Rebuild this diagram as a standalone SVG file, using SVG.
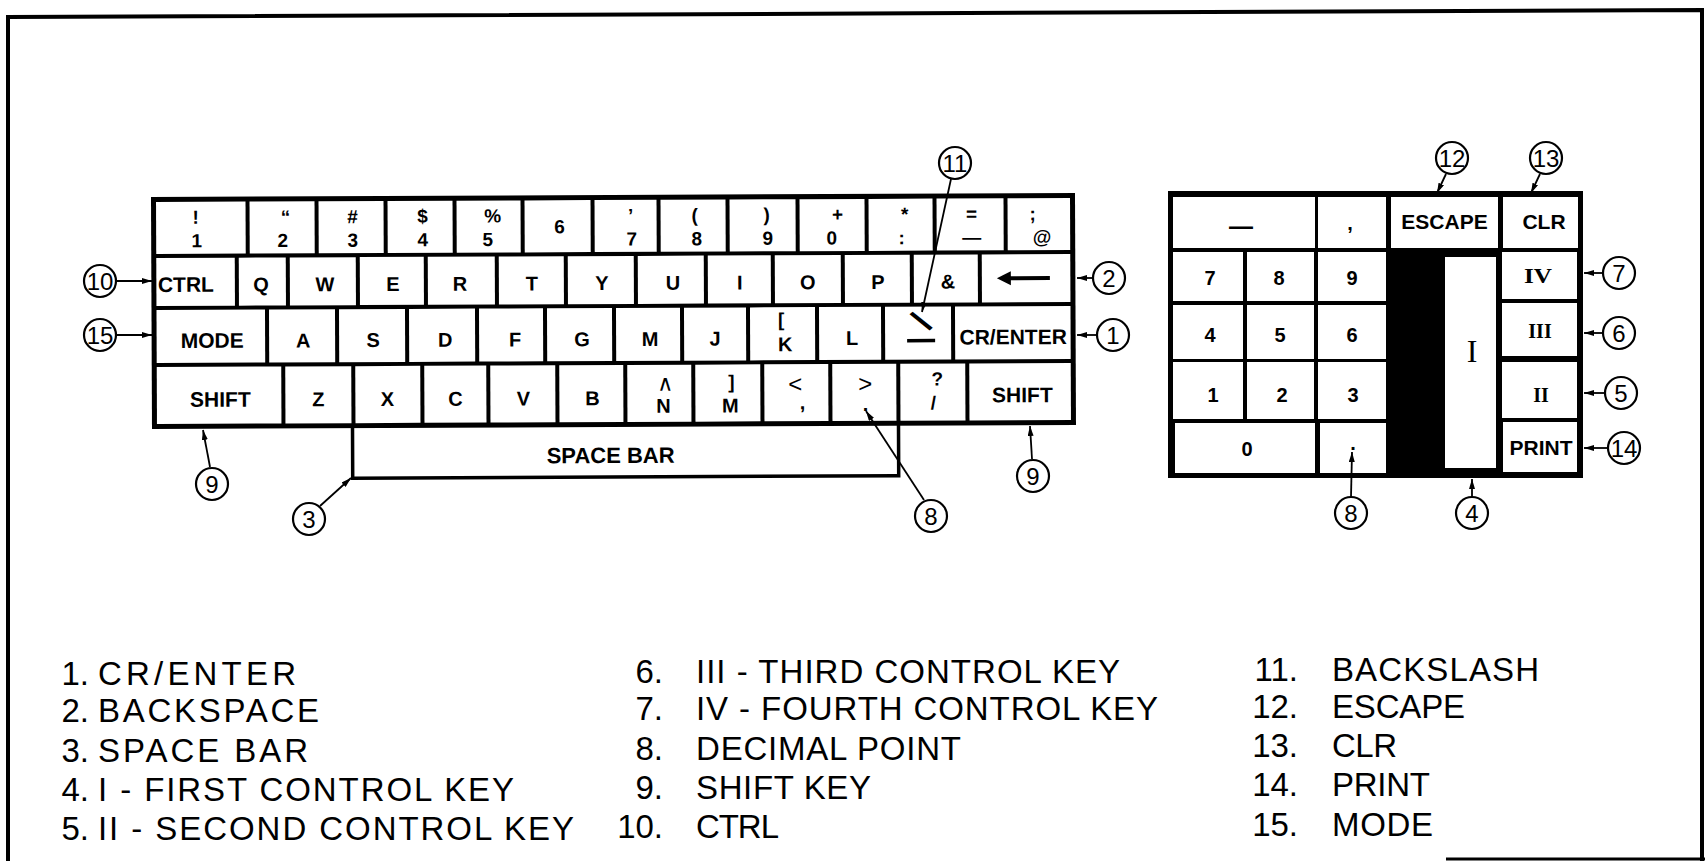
<svg xmlns="http://www.w3.org/2000/svg" width="1705" height="861" viewBox="0 0 1705 861">
<style>
text{font-family:"Liberation Sans",Arial,Helvetica,sans-serif;fill:#000}
.k{font-weight:bold;font-size:20px;text-anchor:middle}
.kw{font-weight:bold;font-size:21px;text-anchor:middle}
.kd{font-weight:bold;font-size:19px;text-anchor:middle}
.rn{font-family:"Liberation Serif","Times New Roman",serif;font-weight:bold;font-size:20px;text-anchor:middle}
.key{fill:#fff}
.co circle{fill:#fff;stroke:#000;stroke-width:2.2}
.co text{font-size:24px;text-anchor:middle}
.cn line{stroke:#000;stroke-width:1.8;marker-end:url(#ah)}
.lg{font-size:33px}
.lgn{font-size:33px;text-anchor:end}
</style>
<defs>
<marker id="ah" viewBox="0 0 10 6" refX="10" refY="3" markerWidth="10" markerHeight="6" orient="auto" markerUnits="userSpaceOnUse"><path d="M0,0 L10,3 L0,6 z" fill="#000"/></marker>
</defs>
<rect width="1705" height="861" fill="#fff"/>
<g id="frame" fill="none" stroke="#000">
<path d="M8,861 L8,17 L1702,10 L1702,861" stroke-width="4"/>
<line x1="1446" y1="859" x2="1705" y2="859" stroke-width="3"/>
</g>

<g id="keyboard" transform="rotate(-0.25 614 312)">
<g id="key-space"><rect x="352" y="424.5" width="546" height="52.5" fill="#fff" stroke="#000" stroke-width="3.5"/><text class="kw" x="610" y="463" style="font-size:22px">SPACE BAR</text></g>
<rect x="151.5" y="195" width="924" height="232" fill="#000"/>
<!-- row 1 -->
<g id="key-1"><rect class="key" x="156.5" y="200" width="89.5" height="52"/><text class="kd" x="196" y="222">!</text><text class="kd" x="197" y="245.5">1</text></g>
<g id="key-2"><rect class="key" x="250" y="200" width="65" height="52"/><text class="kd" x="286" y="222">“</text><text class="kd" x="283" y="245.5">2</text></g>
<g id="key-3"><rect class="key" x="319" y="200" width="65" height="52"/><text class="kd" x="353" y="222">#</text><text class="kd" x="353" y="245.5">3</text></g>
<g id="key-4"><rect class="key" x="388" y="200" width="65" height="52"/><text class="kd" x="423" y="222">$</text><text class="kd" x="423" y="245.5">4</text></g>
<g id="key-5"><rect class="key" x="457" y="200" width="64" height="52"/><text class="kd" x="493" y="222">%</text><text class="kd" x="488" y="245.5">5</text></g>
<g id="key-6"><rect class="key" x="525" y="200" width="66" height="52"/><text class="kd" x="560" y="233">6</text></g>
<g id="key-7"><rect class="key" x="595" y="200" width="62" height="52"/><text class="kd" x="631" y="222">’</text><text class="kd" x="632" y="245.5">7</text></g>
<g id="key-8"><rect class="key" x="661" y="200" width="65" height="52"/><text class="kd" x="695" y="222">(</text><text class="kd" x="697" y="245.5">8</text></g>
<g id="key-9"><rect class="key" x="730" y="200" width="66" height="52"/><text class="kd" x="767" y="222">)</text><text class="kd" x="768" y="245.5">9</text></g>
<g id="key-0"><rect class="key" x="800" y="200" width="65" height="52"/><text class="kd" x="838" y="222">+</text><text class="kd" x="832" y="245.5">0</text></g>
<g id="key-colon"><rect class="key" x="869" y="200" width="64" height="52"/><text class="kd" x="905" y="222">*</text><text class="kd" x="902" y="245.5">:</text></g>
<g id="key-minus"><rect class="key" x="937" y="200" width="67" height="52"/><text class="kd" x="972" y="222">=</text><text class="kd" x="972" y="245.5">—</text></g>
<g id="key-at"><rect class="key" x="1008" y="200" width="62.5" height="52"/><text class="kd" x="1033" y="222">;</text><text class="kd" x="1042" y="245.5" style="font-style:italic">@</text></g>
<!-- row 2 -->
<g id="key-ctrl"><rect class="key" x="156.5" y="256" width="78.5" height="48"/><text class="kw" x="158" y="290" style="text-anchor:start">CTRL</text></g>
<g id="key-q"><rect class="key" x="239" y="256" width="47" height="48"/><text class="k" x="261" y="290">Q</text></g>
<g id="key-w"><rect class="key" x="290" y="256" width="66" height="48"/><text class="k" x="325" y="290">W</text></g>
<g id="key-e"><rect class="key" x="360" y="256" width="64" height="48"/><text class="k" x="393" y="290">E</text></g>
<g id="key-r"><rect class="key" x="428" y="256" width="67" height="48"/><text class="k" x="460" y="290">R</text></g>
<g id="key-t"><rect class="key" x="499" y="256" width="65" height="48"/><text class="k" x="532" y="290">T</text></g>
<g id="key-y"><rect class="key" x="568" y="256" width="66" height="48"/><text class="k" x="602" y="290">Y</text></g>
<g id="key-u"><rect class="key" x="638" y="256" width="66" height="48"/><text class="k" x="673" y="290">U</text></g>
<g id="key-i"><rect class="key" x="708" y="256" width="63" height="48"/><text class="k" x="740" y="290">I</text></g>
<g id="key-o"><rect class="key" x="775" y="256" width="66" height="48"/><text class="k" x="808" y="290">O</text></g>
<g id="key-p"><rect class="key" x="845" y="256" width="65" height="48"/><text class="k" x="878" y="290">P</text></g>
<g id="key-amp"><rect class="key" x="914" y="256" width="64" height="48"/><text class="k" x="948" y="290">&amp;</text></g>
<g id="key-backspace"><rect class="key" x="982" y="256" width="88.5" height="48"/><line x1="1008" y1="280" x2="1050" y2="280" stroke="#000" stroke-width="4"/><path d="M997,280 L1011,273 L1011,287 z" fill="#000"/></g>
<!-- row 3 -->
<g id="key-mode"><rect class="key" x="156.5" y="308" width="108.5" height="53"/><text class="kw" x="212" y="346">MODE</text></g>
<g id="key-a"><rect class="key" x="269" y="308" width="66" height="53"/><text class="k" x="303" y="346">A</text></g>
<g id="key-s"><rect class="key" x="339" y="308" width="66" height="53"/><text class="k" x="373" y="346">S</text></g>
<g id="key-d"><rect class="key" x="409" y="308" width="66" height="53"/><text class="k" x="445" y="346">D</text></g>
<g id="key-f"><rect class="key" x="479" y="308" width="64" height="53"/><text class="k" x="515" y="346">F</text></g>
<g id="key-g"><rect class="key" x="547" y="308" width="65" height="53"/><text class="k" x="582" y="346">G</text></g>
<g id="key-m1"><rect class="key" x="616" y="308" width="64" height="53"/><text class="k" x="650" y="346">M</text></g>
<g id="key-j"><rect class="key" x="684" y="308" width="62" height="53"/><text class="k" x="715" y="346">J</text></g>
<g id="key-k"><rect class="key" x="750" y="308" width="65" height="53"/><text class="kd" x="781" y="327">[</text><text class="k" x="785" y="352">K</text></g>
<g id="key-l"><rect class="key" x="819" y="308" width="62" height="53"/><text class="k" x="852" y="346">L</text></g>
<g id="key-backslash"><rect class="key" x="885" y="308" width="66" height="53"/><text class="kw" transform="translate(921,322.5) rotate(-40)" y="12" style="font-size:34px">\</text><line x1="907" y1="342" x2="935" y2="342" stroke="#000" stroke-width="3.5"/></g>
<g id="key-enter"><rect class="key" x="955" y="308" width="115.5" height="53"/><text class="kw" x="1013" y="346">CR/ENTER</text></g>
<!-- row 4 -->
<g id="key-shift-l"><rect class="key" x="156.5" y="365" width="124.5" height="57"/><text class="kw" x="220" y="405">SHIFT</text></g>
<g id="key-z"><rect class="key" x="285" y="365" width="66" height="57"/><text class="k" x="318" y="405">Z</text></g>
<g id="key-x"><rect class="key" x="355" y="365" width="65" height="57"/><text class="k" x="387" y="405">X</text></g>
<g id="key-c"><rect class="key" x="424" y="365" width="62" height="57"/><text class="k" x="455" y="405">C</text></g>
<g id="key-v"><rect class="key" x="490" y="365" width="65" height="57"/><text class="k" x="523" y="405">V</text></g>
<g id="key-b"><rect class="key" x="559" y="365" width="64" height="57"/><text class="k" x="592" y="405">B</text></g>
<g id="key-n"><rect class="key" x="627" y="365" width="64" height="57"/><text x="665" y="391" style="font-family:'DejaVu Sans',sans-serif;font-size:22px;text-anchor:middle">∧</text><text class="k" x="663" y="413">N</text></g>
<g id="key-m2"><rect class="key" x="695" y="365" width="65" height="57"/><text class="kd" x="731" y="389">]</text><text class="k" x="730" y="413">M</text></g>
<g id="key-comma"><rect class="key" x="764" y="365" width="64" height="57"/><text class="k" x="795" y="393" style="font-weight:normal;font-size:24px">&lt;</text><text class="k" x="802" y="410">,</text></g>
<g id="key-period"><rect class="key" x="832" y="365" width="64" height="57"/><text class="k" x="865" y="393" style="font-weight:normal;font-size:24px">&gt;</text><text class="k" x="865" y="412">.</text></g>
<g id="key-slash"><rect class="key" x="900" y="365" width="65" height="57"/><text class="kd" x="937" y="387">?</text><text class="kd" x="933" y="411">/</text></g>
<g id="key-shift-r"><rect class="key" x="969" y="365" width="101.5" height="57"/><text class="kw" x="1022" y="404">SHIFT</text></g>
</g>

<g id="keypad">
<rect x="1168" y="191" width="415" height="287" fill="#000"/>
<g id="kp-minus"><rect class="key" x="1173" y="197" width="142" height="51"/><text class="k" x="1241" y="234" style="font-size:24px">—</text></g>
<g id="kp-comma"><rect class="key" x="1318" y="197" width="68" height="51"/><text class="k" x="1350" y="230">,</text></g>
<g id="kp-escape"><rect class="key" x="1391" y="197" width="107" height="51"/><text class="kw" x="1444.5" y="229">ESCAPE</text></g>
<g id="kp-clr"><rect class="key" x="1503" y="197" width="75" height="51"/><text class="kw" x="1544" y="229">CLR</text></g>
<g id="kp-7"><rect class="key" x="1173" y="252" width="70" height="49"/><text class="k" x="1210" y="285">7</text></g>
<g id="kp-8"><rect class="key" x="1247" y="252" width="67" height="49"/><text class="k" x="1279" y="285">8</text></g>
<g id="kp-9"><rect class="key" x="1318" y="252" width="68" height="49"/><text class="k" x="1352" y="285">9</text></g>
<g id="kp-4"><rect class="key" x="1173" y="305" width="70" height="54"/><text class="k" x="1210" y="342">4</text></g>
<g id="kp-5"><rect class="key" x="1247" y="305" width="67" height="54"/><text class="k" x="1280" y="342">5</text></g>
<g id="kp-6"><rect class="key" x="1318" y="305" width="68" height="54"/><text class="k" x="1352" y="342">6</text></g>
<g id="kp-1"><rect class="key" x="1173" y="362" width="70" height="57"/><text class="k" x="1213" y="402">1</text></g>
<g id="kp-2"><rect class="key" x="1247" y="362" width="67" height="57"/><text class="k" x="1282" y="402">2</text></g>
<g id="kp-3"><rect class="key" x="1318" y="362" width="68" height="57"/><text class="k" x="1353" y="402">3</text></g>
<g id="kp-0"><rect class="key" x="1175" y="423" width="140" height="50"/><text class="k" x="1247" y="456">0</text></g>
<g id="kp-point"><rect class="key" x="1320" y="423" width="66" height="50"/><text class="k" x="1353" y="450">.</text></g>
<g id="kp-I"><rect class="key" x="1445" y="257" width="51" height="211"/><text x="1472" y="362" style="font-family:'Liberation Serif','Times New Roman',serif;font-size:32px;text-anchor:middle">I</text></g>
<g id="kp-IV"><rect class="key" x="1502" y="252" width="75" height="47"/><text class="rn" x="1538" y="283" textLength="28" lengthAdjust="spacingAndGlyphs">IV</text></g>
<g id="kp-III"><rect class="key" x="1502" y="303" width="75" height="53"/><text class="rn" x="1540" y="338">III</text></g>
<g id="kp-II"><rect class="key" x="1502" y="362" width="75" height="56"/><text class="rn" x="1541" y="402">II</text></g>
<g id="kp-print"><rect class="key" x="1503" y="422" width="74" height="50"/><text class="kw" x="1541" y="455">PRINT</text></g>
</g>

<g id="connectors" class="cn">
<line x1="951" y1="179" x2="922" y2="312"/>
<line x1="1446" y1="174" x2="1437" y2="193"/>
<line x1="1540" y1="174" x2="1531" y2="193"/>
<line x1="1092" y1="278" x2="1077" y2="278"/>
<line x1="1096" y1="335" x2="1077" y2="335"/>
<line x1="1602" y1="273" x2="1584" y2="273"/>
<line x1="1602" y1="333" x2="1584" y2="333"/>
<line x1="1604" y1="393" x2="1584" y2="393"/>
<line x1="1607" y1="448" x2="1584" y2="448"/>
<line x1="117" y1="281" x2="152" y2="281"/>
<line x1="117" y1="335" x2="152" y2="335"/>
<line x1="210" y1="467" x2="203" y2="430"/>
<line x1="1032" y1="459" x2="1030" y2="426"/>
<line x1="320" y1="506" x2="351" y2="478"/>
<line x1="924" y1="500" x2="866" y2="411"/>
<line x1="1351" y1="497" x2="1352" y2="452"/>
<line x1="1472" y1="497" x2="1472" y2="479"/>
</g>

<g id="c11" class="co"><circle cx="955" cy="163" r="16"/><text x="955" y="171.5">11</text></g>
<g id="c12" class="co"><circle cx="1452" cy="158" r="16"/><text x="1452" y="166.5">12</text></g>
<g id="c13" class="co"><circle cx="1546" cy="158" r="16"/><text x="1546" y="166.5">13</text></g>
<g id="c2" class="co"><circle cx="1109" cy="278" r="16"/><text x="1109" y="286.5">2</text></g>
<g id="c1" class="co"><circle cx="1113" cy="335" r="16"/><text x="1113" y="343.5">1</text></g>
<g id="c7" class="co"><circle cx="1619" cy="273" r="16"/><text x="1619" y="281.5">7</text></g>
<g id="c6" class="co"><circle cx="1619" cy="333" r="16"/><text x="1619" y="341.5">6</text></g>
<g id="c5" class="co"><circle cx="1621" cy="393" r="16"/><text x="1621" y="401.5">5</text></g>
<g id="c14" class="co"><circle cx="1624" cy="448" r="16"/><text x="1624" y="456.5">14</text></g>
<g id="c10" class="co"><circle cx="100" cy="281" r="16"/><text x="100" y="289.5">10</text></g>
<g id="c15" class="co"><circle cx="100" cy="335" r="16"/><text x="100" y="343.5">15</text></g>
<g id="c9a" class="co"><circle cx="212" cy="484" r="16"/><text x="212" y="492.5">9</text></g>
<g id="c9b" class="co"><circle cx="1033" cy="476" r="16"/><text x="1033" y="484.5">9</text></g>
<g id="c3" class="co"><circle cx="309" cy="519" r="16"/><text x="309" y="527.5">3</text></g>
<g id="c8a" class="co"><circle cx="931" cy="516" r="16"/><text x="931" y="524.5">8</text></g>
<g id="c8b" class="co"><circle cx="1351" cy="513" r="16"/><text x="1351" y="521.5">8</text></g>
<g id="c4" class="co"><circle cx="1472" cy="513" r="16"/><text x="1472" y="521.5">4</text></g>

<g id="legend">
<text class="lgn" x="89" y="685">1.</text><text class="lg" x="98" y="685" textLength="198">CR/ENTER</text>
<text class="lgn" x="89" y="722">2.</text><text class="lg" x="98" y="722" textLength="221">BACKSPACE</text>
<text class="lgn" x="89" y="762">3.</text><text class="lg" x="98" y="762" textLength="210">SPACE BAR</text>
<text class="lgn" x="89" y="801">4.</text><text class="lg" x="98" y="801" textLength="416">I - FIRST CONTROL KEY</text>
<text class="lgn" x="89" y="840">5.</text><text class="lg" x="98" y="840" textLength="476">II - SECOND CONTROL KEY</text>
<text class="lgn" x="663" y="683">6.</text><text class="lg" x="696" y="683" textLength="424">III - THIRD CONTROL KEY</text>
<text class="lgn" x="663" y="720">7.</text><text class="lg" x="696" y="720" textLength="462">IV - FOURTH CONTROL KEY</text>
<text class="lgn" x="663" y="760">8.</text><text class="lg" x="696" y="760" textLength="265">DECIMAL POINT</text>
<text class="lgn" x="663" y="799">9.</text><text class="lg" x="696" y="799" textLength="175">SHIFT KEY</text>
<text class="lgn" x="663" y="838">10.</text><text class="lg" x="696" y="838" textLength="83">CTRL</text>
<text class="lgn" x="1298" y="681">11.</text><text class="lg" x="1332" y="681" textLength="207">BACKSLASH</text>
<text class="lgn" x="1298" y="718">12.</text><text class="lg" x="1332" y="718" textLength="133">ESCAPE</text>
<text class="lgn" x="1298" y="757">13.</text><text class="lg" x="1332" y="757" textLength="65">CLR</text>
<text class="lgn" x="1298" y="796">14.</text><text class="lg" x="1332" y="796" textLength="98">PRINT</text>
<text class="lgn" x="1298" y="836">15.</text><text class="lg" x="1332" y="836" textLength="101">MODE</text>
</g>
</svg>
